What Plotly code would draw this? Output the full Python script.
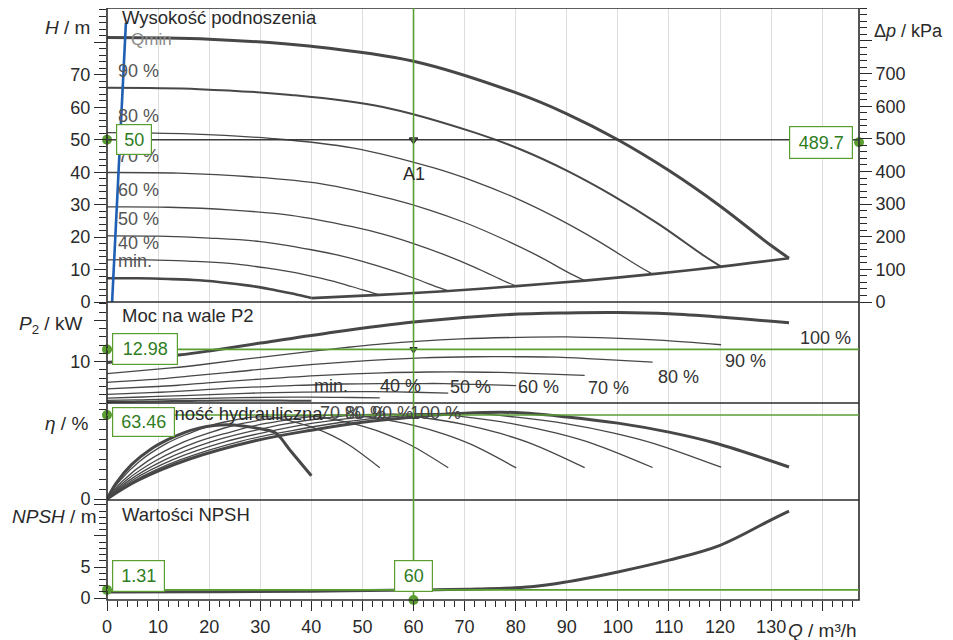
import plotly.graph_objects as go

# ---------------- operating point ----------------
Q_OP = 60
H_OP = 50
DP_OP = 489.7
P2_OP = 12.98
ETA_OP = 63.46
NPSH_OP = 1.31

# ---------------- ticks ----------------
X_TICKS = list(range(0, 150, 10))
X_TICK_TEXT = [str(v) for v in range(0, 140, 10)] + [" "]
H_TICKS = list(range(0, 90, 10))
H_TICK_TEXT = [str(v) for v in range(0, 80, 10)] + [" "]
DP_TICKS = list(range(0, 900, 100))
DP_TICK_TEXT = [str(v) for v in range(0, 800, 100)] + [" "]
P2_TICKS = [10, 20]
P2_TICK_TEXT = ["10", " "]
ETA_TICKS = [0]
ETA_TICK_TEXT = ["0"]
NPSH_TICKS = [0, 5, 10, 15]
NPSH_TICK_TEXT = ["0", "5", " ", " "]

SPEEDS = ["100 %", "90 %", "80 %", "70 %", "60 %", "50 %", "40 %", "min."]

# ---------------- H curves (m) ----------------
H_Q_100 = [0, 20, 40, 60, 80, 90, 100, 110, 120, 130, 133.5]
H_100 = [81.5, 81.0, 78.8, 74.2, 64.5, 58.0, 50.0, 40.5, 29.6, 17.4, 13.5]
H_Q_90 = [0, 18, 36, 54, 72, 81, 90, 99, 108, 117, 120.2]
H_90 = [66.0, 65.6, 63.8, 60.1, 52.2, 47.0, 40.5, 32.8, 24.0, 14.1, 10.9]
H_Q_80 = [0, 16, 32, 48, 64, 72, 80, 88, 96, 104, 106.8]
H_80 = [52.2, 51.8, 50.4, 47.5, 41.3, 37.1, 32.0, 25.9, 18.9, 11.1, 8.6]
H_Q_70 = [0, 14, 28, 42, 56, 63, 70, 77, 84, 91, 93.5]
H_70 = [39.9, 39.7, 38.6, 36.4, 31.6, 28.4, 24.5, 19.8, 14.5, 8.5, 6.6]
H_Q_60 = [0, 12, 24, 36, 48, 54, 60, 66, 72, 78, 80.1]
H_60 = [29.3, 29.2, 28.4, 26.7, 23.2, 20.9, 18.0, 14.6, 10.7, 6.3, 4.9]
H_Q_50 = [0, 10, 20, 30, 40, 45, 50, 55, 60, 65, 66.8]
H_50 = [20.4, 20.3, 19.7, 18.6, 16.1, 14.5, 12.5, 10.1, 7.4, 4.4, 3.4]
H_Q_40 = [0, 8, 16, 24, 32, 36, 40, 44, 48, 52, 53.4]
H_40 = [13.0, 13.0, 12.6, 11.9, 10.3, 9.3, 8.0, 6.5, 4.7, 2.8, 2.2]
H_Q_MIN = [0, 6, 12, 18, 24, 27, 30, 33, 36, 39, 40]
H_MIN = [7.3, 7.3, 7.1, 6.7, 5.8, 5.2, 4.5, 3.6, 2.7, 1.6, 1.2]
H_ENV_Q = [40, 53.4, 66.8, 80.1, 93.5, 106.8, 120.2, 133.5]
H_ENV = [1.2, 2.2, 3.4, 4.9, 6.6, 8.6, 10.9, 13.5]
QMIN_Q = [1.0, 3.7]
QMIN_H = [0, 86]

# ---------------- P2 curves (kW) ----------------
P_Q_100 = [0, 14, 20, 30, 43, 60, 77, 90, 100, 110, 120, 133.5]
P_100 = [9.8, 11.6, 12.6, 14.5, 16.9, 19.6, 21.3, 21.8, 21.9, 21.6, 20.8, 19.4]
P_Q_90 = [0, 12.6, 18, 27, 38.7, 54, 69.3, 81, 90, 99, 108, 120.2]
P_90 = [7.1, 8.5, 9.2, 10.6, 12.3, 14.3, 15.5, 15.9, 16.0, 15.7, 15.2, 14.1]
P_Q_80 = [0, 11.2, 16, 24, 34.4, 48, 61.6, 72, 80, 88, 96, 106.8]
P_80 = [5.0, 5.9, 6.5, 7.4, 8.7, 10.0, 10.9, 11.2, 11.2, 11.1, 10.6, 9.9]
P_Q_70 = [0, 9.8, 14, 21, 30.1, 42, 53.9, 63, 70, 77, 84, 93.5]
P_70 = [3.4, 4.0, 4.3, 5.0, 5.8, 6.7, 7.3, 7.5, 7.5, 7.4, 7.1, 6.7]
P_Q_60 = [0, 8.4, 12, 18, 25.8, 36, 46.2, 54, 60, 66, 72, 80.1]
P_60 = [2.1, 2.5, 2.7, 3.1, 3.7, 4.2, 4.6, 4.7, 4.7, 4.7, 4.5, 4.2]
P_Q_50 = [0, 7, 10, 15, 21.5, 30, 38.5, 45, 50, 55, 60, 66.8]
P_50 = [1.2, 1.45, 1.6, 1.8, 2.1, 2.45, 2.65, 2.7, 2.75, 2.7, 2.6, 2.4]
P_Q_40 = [0, 5.6, 8, 12, 17.2, 24, 30.8, 36, 40, 44, 48, 53.4]
P_40 = [0.63, 0.74, 0.81, 0.93, 1.08, 1.25, 1.36, 1.4, 1.4, 1.38, 1.33, 1.24]
P_Q_MIN = [0, 4.2, 6, 9, 12.9, 18, 23.1, 27, 30, 33, 36, 40]
P_MIN = [0.26, 0.31, 0.34, 0.39, 0.46, 0.53, 0.58, 0.59, 0.59, 0.58, 0.56, 0.52]

# ---------------- efficiency curves (%) ----------------
E_Q_100 = [0, 6, 16, 29, 40, 50, 60, 70, 80, 90, 100, 110, 119, 133.5]
E_100 = [0, 14, 30, 44, 52, 58, 62, 64.8, 65.3, 62, 57.3, 50.5, 42.3, 24.2]
E_Q_90 = [0, 5.4, 14.4, 26.1, 36, 45, 54, 63, 72, 81, 90, 99, 107.1, 120.2]
E_90 = [0, 13.9, 29.7, 43.6, 51.5, 57.4, 61.4, 64.2, 64.6, 61.4, 56.7, 50.0, 41.9, 24.0]
E_Q_80 = [0, 4.8, 12.8, 23.2, 32, 40, 48, 56, 64, 72, 80, 88, 95.2, 106.8]
E_80 = [0, 13.8, 29.5, 43.3, 51.2, 57.1, 61.1, 63.8, 64.3, 61.1, 56.4, 49.7, 41.7, 23.8]
E_Q_70 = [0, 4.2, 11.2, 20.3, 28, 35, 42, 49, 56, 63, 70, 77, 83.3, 93.5]
E_70 = [0, 13.7, 29.4, 43.1, 51.0, 56.8, 60.8, 63.5, 64.0, 60.8, 56.2, 49.5, 41.5, 23.7]
E_Q_60 = [0, 3.6, 9.6, 17.4, 24, 30, 36, 42, 48, 54, 60, 66, 71.4, 80.1]
E_60 = [0, 13.6, 29.1, 42.7, 50.4, 56.3, 60.1, 62.9, 63.3, 60.1, 55.6, 49.0, 41.0, 23.5]
E_Q_50 = [0, 3, 8, 14.5, 20, 25, 30, 35, 40, 45, 50, 55, 59.5, 66.8]
E_50 = [0, 13.4, 28.8, 42.2, 49.9, 55.7, 59.5, 62.2, 62.7, 59.5, 55.0, 48.5, 40.6, 23.6]
E_Q_40 = [0, 2.4, 6.4, 11.6, 16, 20, 24, 28, 32, 36, 40, 44, 47.6, 53.4]
E_40 = [0, 13.3, 28.5, 41.8, 49.4, 55.1, 58.9, 61.6, 62.0, 58.9, 54.4, 48.0, 40.2, 23.6]
E_Q_MIN = [0, 1.8, 4.8, 8.7, 12, 15, 18, 21, 24, 27, 30, 33, 36, 40]
E_MIN = [0, 12, 26, 38, 45, 50, 53.5, 55.5, 56, 55, 53, 49.8, 36, 17.6]

# ---------------- NPSH (m) ----------------
NPSH_Q = [0, 20, 40, 60, 72.5, 83, 90, 100, 110, 120, 130, 133.5]
NPSH = [0.95, 1.0, 1.1, 1.31, 1.45, 1.8, 2.6, 4.2, 6.1, 8.5, 12.6, 14.0]

# ---------------- layout helpers (page pixel coordinates) ----------------
OFF = 8                      # default body margin of the html page
W, HGT = 953 - OFF, 640 - OFF
L, R, T, B = 107, 859, 8, 600   # plot area in page pixels
PW, PH = R - L, B - T


def py(px):
    return (B - px) / PH


def pxp(px):
    return (px - L) / PW


X_RANGE = [0, 147.2]
H_RANGE = [0, 90.6]
DP_RANGE = [0, 901]
P2_RANGE = [0, 24.45]
ETA_RANGE = [-0.75, 72.5]
NPSH_RANGE = [-0.32, 15.8]

FONT = "Liberation Sans, Arial, sans-serif"
DARK = "#2a2a2a"
CURVE = "#474747"
GREEN_LINE = "#5a9e32"
GREEN_TEXT = "#2f7d1e"
TICK_SIZE = 18
TITLE_SIZE = 19
LABEL_SIZE = 18

fig = go.Figure()


def add_curve(q, v, yax, width):
    fig.add_trace(go.Scatter(
        x=q, y=v, yaxis=yax, mode="lines",
        line=dict(color=CURVE, width=width, shape="spline", smoothing=1.0),
        showlegend=False, hoverinfo="skip"))


# H panel
h_curves = [(H_Q_100, H_100, 3), (H_Q_90, H_90, 2), (H_Q_80, H_80, 1.3),
            (H_Q_70, H_70, 1.3), (H_Q_60, H_60, 1.3), (H_Q_50, H_50, 1.3),
            (H_Q_40, H_40, 1.3), (H_Q_MIN, H_MIN, 2.6)]
for q, v, w in h_curves:
    add_curve(q, v, "y", w)
add_curve(H_ENV_Q, H_ENV, "y", 2.6)
fig.add_trace(go.Scatter(x=QMIN_Q, y=QMIN_H, yaxis="y", mode="lines",
                         line=dict(color="#1f5fb4", width=2.6), showlegend=False))

# P2 panel
p_curves = [(P_Q_100, P_100, 3), (P_Q_90, P_90, 1.3), (P_Q_80, P_80, 1.3),
            (P_Q_70, P_70, 1.3), (P_Q_60, P_60, 1.3), (P_Q_50, P_50, 1.3),
            (P_Q_40, P_40, 1.3), (P_Q_MIN, P_MIN, 2)]
for q, v, w in p_curves:
    add_curve(q, v, "y2", w)

# efficiency panel
e_curves = [(E_Q_100, E_100, 3), (E_Q_90, E_90, 1.3), (E_Q_80, E_80, 1.3),
            (E_Q_70, E_70, 1.3), (E_Q_60, E_60, 1.3), (E_Q_50, E_50, 1.3),
            (E_Q_40, E_40, 1.3), (E_Q_MIN, E_MIN, 3)]
for q, v, w in e_curves:
    add_curve(q, v, "y3", w)

# NPSH panel
add_curve(NPSH_Q, NPSH, "y4", 3)

# operating point marks (A1)
fig.add_trace(go.Scatter(x=[Q_OP], y=[H_OP], yaxis="y", mode="markers",
                         marker=dict(symbol="triangle-down-open", size=7, color=DARK,
                                     line=dict(width=1.6)),
                         showlegend=False))
fig.add_trace(go.Scatter(x=[Q_OP], y=[P2_OP], yaxis="y2", mode="markers",
                         marker=dict(symbol="triangle-down-open", size=6, color=DARK,
                                     line=dict(width=1.6)),
                         showlegend=False))

# green axis markers
gm = dict(symbol="circle", size=10, color=GREEN_LINE)
for xv, yv, ax in [(X_RANGE[0], H_OP, "y"), (X_RANGE[1], DP_OP, "y5"),
                   (X_RANGE[0], P2_OP, "y2"), (X_RANGE[0], ETA_OP, "y3"),
                   (X_RANGE[0], NPSH_OP, "y4"), (Q_OP, NPSH_RANGE[0], "y4")]:
    fig.add_trace(go.Scatter(x=[xv], y=[yv], yaxis=ax, mode="markers", marker=gm,
                             cliponaxis=False, showlegend=False))

tickfont = dict(family=FONT, size=TICK_SIZE, color=DARK)


def yax(domain, rng, tv, tt, minor_dt, **kw):
    d = dict(domain=domain, range=rng, tickmode="array", tickvals=tv, ticktext=tt,
             ticks="outside", ticklen=12, tickwidth=1.2, tickcolor=DARK,
             minor=dict(ticks="outside", tickmode="linear", tick0=0, dtick=minor_dt,
                        ticklen=7, tickcolor=DARK, tickwidth=1),
             showgrid=False, zeroline=False, showline=False, anchor="x",
             tickfont=tickfont, fixedrange=True, automargin=False)
    d.update(kw)
    return d


fig.update_layout(
    template="none",
    width=W, height=HGT, autosize=False,
    margin=dict(l=L - OFF, r=W - (R - OFF), t=T - OFF, b=HGT - (B - OFF), pad=0),
    paper_bgcolor="white", plot_bgcolor="white",
    font=dict(family=FONT, color=DARK),
    showlegend=False,
    xaxis=dict(domain=[0, 1], range=X_RANGE, anchor="y4", tickmode="array",
               tickvals=X_TICKS, ticktext=X_TICK_TEXT, ticks="outside", ticklen=10,
               tickwidth=1.2, tickcolor=DARK,
               minor=dict(ticks="outside", tickmode="linear", tick0=0, dtick=2,
                          ticklen=6, tickcolor=DARK, tickwidth=1),
               showgrid=True, gridcolor="#dedede", gridwidth=1, zeroline=False,
               showline=False, tickfont=tickfont, automargin=False, fixedrange=True),
    yaxis=yax([py(302), 1], H_RANGE, H_TICKS, H_TICK_TEXT, 2),
    yaxis5=yax([py(302), 1], DP_RANGE, DP_TICKS, DP_TICK_TEXT, 20,
               overlaying="y", side="right"),
    yaxis2=yax([py(403), py(302)], P2_RANGE, P2_TICKS, P2_TICK_TEXT, 2),
    yaxis3=yax([py(500), py(403)], ETA_RANGE, ETA_TICKS, ETA_TICK_TEXT, 7.5),
    yaxis4=yax([0, py(500)], NPSH_RANGE, NPSH_TICKS, NPSH_TICK_TEXT, 1),
)

shapes = []
# outer frame & panel separators
shapes.append(dict(type="rect", xref="paper", yref="paper", x0=0, x1=1, y0=0, y1=1,
                   line=dict(color=DARK, width=1.6), layer="above"))
for sep in [py(302), py(403), py(500)]:
    shapes.append(dict(type="line", xref="paper", yref="paper", x0=0, x1=1, y0=sep, y1=sep,
                       line=dict(color=DARK, width=1.6), layer="above"))
# operating lines
shapes.append(dict(type="line", xref="paper", yref="y", x0=0, x1=1, y0=H_OP, y1=H_OP,
                   line=dict(color="#3a3a3a", width=1.5)))
shapes.append(dict(type="line", xref="x", yref="paper", x0=Q_OP, x1=Q_OP, y0=0, y1=1,
                   line=dict(color=GREEN_LINE, width=1.6)))
for yv, ax in [(P2_OP, "y2"), (ETA_OP, "y3"), (NPSH_OP, "y4")]:
    shapes.append(dict(type="line", xref="paper", yref=ax, x0=0, x1=1, y0=yv, y1=yv,
                       line=dict(color=GREEN_LINE, width=1.6)))
fig.update_layout(shapes=shapes)

ann = []


def txt(text, x, y, xref="paper", yref="paper", xanchor="left", yanchor="middle",
        size=LABEL_SIZE, color=DARK, **kw):
    d = dict(text=text, x=x, y=y, xref=xref, yref=yref, xanchor=xanchor,
             yanchor=yanchor, showarrow=False, font=dict(family=FONT, size=size, color=color))
    d.update(kw)
    ann.append(d)


# axis titles
txt("<i>H</i> / m", pxp(92), py(28), xanchor="right", size=TITLE_SIZE)
txt("<i>P</i><sub>2</sub> / kW", pxp(84), py(325), xanchor="right", size=TITLE_SIZE)
txt("<i>η</i> / %", pxp(90), py(424), xanchor="right", size=TITLE_SIZE)
txt("<i>NPSH</i> / m", pxp(98), py(516), xanchor="right", size=TITLE_SIZE)
txt("Δ<i>p</i> / kPa", pxp(872), py(31), xanchor="left", size=18)
txt("<i>Q</i> / m³/h", pxp(859), py(630), xanchor="right", size=TITLE_SIZE)

# panel titles
txt("Wysokość podnoszenia", pxp(120), py(18), size=18.5)
txt("Moc na wale P2", pxp(120), py(315), size=18.5)
txt("Sprawność hydrauliczna", pxp(120), py(413), size=18.5)
txt("Wartości NPSH", pxp(120), py(514), size=18.5)

# H speed labels
txt("Qmin", X_RANGE[0], H_100[0], xref="x", yref="y", xshift=22, yshift=-2,
    size=17, color="#8a8a8a")
for lab, vals in zip(SPEEDS[1:], [H_90, H_80, H_70, H_60, H_50, H_40, H_MIN]):
    txt(lab, X_RANGE[0], vals[0], xref="x", yref="y", xshift=9, yshift=17,
        color="#555555")
txt("A1", Q_OP, H_OP, xref="x", yref="y", xanchor="center", yshift=-34)

# P2 speed labels
p_label_shift = [(36, -15), (24, -16), (26, -15), (24, -13), (22, -1), (22, 6), (21, 12), (20, 15)]
for lab, q, v, (dx, dy) in zip(SPEEDS, [P_Q_100, P_Q_90, P_Q_80, P_Q_70, P_Q_60, P_Q_50, P_Q_40, P_Q_MIN],
                               [P_100, P_90, P_80, P_70, P_60, P_50, P_40, P_MIN], p_label_shift):
    txt(lab, q[-1], v[-1], xref="x", yref="y2", xanchor="center", xshift=dx, yshift=dy,
        color="#333333")

# efficiency speed labels (overlapping at the top of the curves)
for lab, q in zip(["70 %", "80 %", "90 %", "100 %"], [41.3, 46.2, 51.5, 58.9]):
    txt(lab, q, 65, xref="x", yref="y3", color="#444444")

# value boxes
box = dict(bordercolor=GREEN_LINE, borderwidth=1.2, bgcolor="white", borderpad=2)
txt("50", X_RANGE[0], H_OP, xref="x", yref="y", xshift=9, size=18, color=GREEN_TEXT,
    width=30, height=25, **box)
txt("489.7", 1, DP_OP, xref="paper", yref="y5", xanchor="right", xshift=-6, size=18,
    color=GREEN_TEXT, width=58, height=27, **box)
txt("12.98", X_RANGE[0], P2_OP, xref="x", yref="y2", xshift=5, size=18, color=GREEN_TEXT,
    width=60, height=26, **box)
txt("63.46", X_RANGE[0], ETA_OP, xref="x", yref="y3", xshift=5, yshift=-7, size=18,
    color=GREEN_TEXT, width=57, height=24, **box)
txt("1.31", X_RANGE[0], NPSH_OP, xref="x", yref="y4", xshift=5, yshift=14, size=18,
    color=GREEN_TEXT, width=47, height=26, **box)
txt("60", Q_OP, NPSH_OP, xref="x", yref="y4", xanchor="center", yshift=14, size=18,
    color=GREEN_TEXT, width=33, height=26, **box)

fig.update_layout(annotations=ann)

fig.write_html("out.html")
